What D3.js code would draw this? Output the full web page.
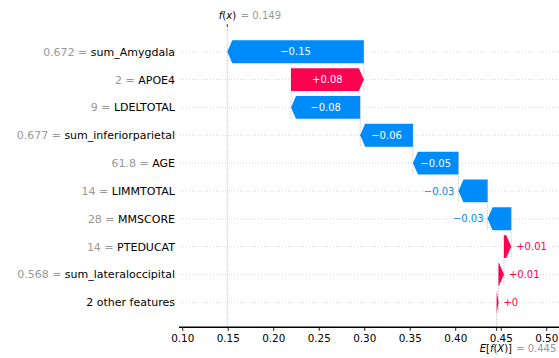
<!DOCTYPE html>
<html>
<head>
<meta charset="utf-8">
<script src="https://cdn.jsdelivr.net/npm/d3@7"></script>
<style>
  html, body { margin: 0; padding: 0; background: #fff; }
  svg { display: block; font-family: "DejaVu Sans", sans-serif; }
</style>
</head>
<body>
<svg id="chart" width="559" height="358"></svg>
<script>
// SHAP waterfall: contributions of each feature from E[f(X)] to f(x)
const features = ["sum_Amygdala", "APOE4", "LDELTOTAL", "sum_inferiorparietal", "AGE",
                  "LIMMTOTAL", "MMSCORE", "PTEDUCAT", "sum_lateraloccipital", "2 other features"];
const featureValues = ["0.672", "2", "9", "0.677", "61.8", "14", "28", "14", "0.568", null];
const shapValues = [-0.150, 0.080, -0.076, -0.058, -0.050, -0.032, -0.026, 0.008, 0.006, 0.002];
const baseValue = 0.445;
const xTicks = [0.10, 0.15, 0.20, 0.25, 0.30, 0.35, 0.40, 0.45, 0.50];

const BLUE = "#008bfb", RED = "#ff0051", GRAY = "#999999";

const svg = d3.select("#chart");
const fx = baseValue + d3.sum(shapValues);

const x = d3.scaleLinear().domain([0.0959, 0.5135]).range([179, 559]);
const y = d3.scaleLinear().domain([-0.9, features.length - 1 + 0.9]).range([26.7, 327.3]);
const rowStep = y(1) - y(0);
const barH = rowStep * 0.82;
const headLen = 5;

// bar extents, accumulated from the base value upward through the rows
const bars = [];
let cum = baseValue;
for (let i = features.length - 1; i >= 0; i--) {
  const v = shapValues[i];
  bars[i] = { i, v, from: cum, to: cum + v };
  cum += v;
}

const fmtShap = v => {
  let s = d3.format("+.2f")(v);
  s = s.replace(/0+$/, "").replace(/\.$/, "");
  return s.replace("-", "\u2212");
};

const back = svg.append("g");
const front = svg.append("g");

// horizontal dotted row guides
back.selectAll("line.row").data(features).join("line")
  .attr("x1", 180).attr("x2", 559)
  .attr("y1", (d, i) => y(i)).attr("y2", (d, i) => y(i))
  .attr("stroke", "#cccccc").attr("stroke-width", 0.8)
  .attr("stroke-dasharray", "1,2");

// connectors between consecutive bars
back.selectAll("line.conn").data(bars.slice(0, features.length - 1)).join("line")
  .attr("x1", d => x(d.from)).attr("x2", d => x(d.from))
  .attr("y1", d => y(d.i) - barH / 2).attr("y2", d => y(d.i + 1) + barH / 2)
  .attr("stroke", "#bbbbbb").attr("stroke-width", 0.7)
  .attr("stroke-dasharray", "2,1");

// f(x) and E[f(X)] guides
back.append("line")
  .attr("x1", x(fx)).attr("x2", x(fx)).attr("y1", y.range()[0]).attr("y2", y.range()[1])
  .attr("stroke", "#bbbbbb").attr("stroke-width", 0.7).attr("stroke-dasharray", "2,1");
back.append("line")
  .attr("x1", x(baseValue)).attr("x2", x(baseValue)).attr("y1", y.range()[1] - 30).attr("y2", y.range()[1])
  .attr("stroke", "#bbbbbb").attr("stroke-width", 0.7).attr("stroke-dasharray", "2,1");

// arrows
function arrowPath(d) {
  const cy = y(d.i), top = cy - barH / 2, bot = cy + barH / 2;
  const a = x(Math.min(d.from, d.to)), b = x(Math.max(d.from, d.to));
  const hl = Math.min(headLen, b - a);
  if (d.v >= 0) {
    return `M${a},${top}L${b - hl},${top}L${b},${cy}L${b - hl},${bot}L${a},${bot}Z`;
  }
  return `M${b},${top}L${a + hl},${top}L${a},${cy}L${a + hl},${bot}L${b},${bot}Z`;
}
front.selectAll("path.bar").data(bars).join("path")
  .attr("d", arrowPath)
  .attr("fill", d => d.v >= 0 ? RED : BLUE);

// value labels: inside the arrow when they fit, otherwise beside it
bars.forEach(d => {
  const a = x(Math.min(d.from, d.to)), b = x(Math.max(d.from, d.to));
  const t = front.append("text")
    .attr("y", y(d.i)).attr("dy", "0.36em")
    .attr("font-size", "10px")
    .text(fmtShap(d.v));
  const w = t.node().getComputedTextLength();
  if (w < b - a) {
    t.attr("x", (a + b) / 2).attr("text-anchor", "middle").attr("fill", "#fff");
  } else if (d.v >= 0) {
    t.attr("x", b + 5).attr("text-anchor", "start").attr("fill", RED);
  } else {
    t.attr("x", a - 4).attr("text-anchor", "end").attr("fill", BLUE);
  }
});

// feature labels
features.forEach((f, i) => {
  const t = front.append("text")
    .attr("x", 175).attr("y", y(i)).attr("dy", "0.36em")
    .attr("text-anchor", "end").attr("font-size", "11px");
  if (featureValues[i] !== null) {
    t.append("tspan").attr("fill", GRAY).text(featureValues[i] + " = ");
  }
  t.append("tspan").attr("fill", "#000").text(f);
});

// bottom axis
const axisY = y.range()[1];
front.append("line")
  .attr("x1", 179).attr("x2", 559).attr("y1", axisY).attr("y2", axisY)
  .attr("stroke", "#000").attr("stroke-width", 1.5);
front.selectAll("line.tick").data(xTicks.concat([baseValue])).join("line")
  .attr("x1", d => x(d)).attr("x2", d => x(d))
  .attr("y1", axisY).attr("y2", axisY + 3.5)
  .attr("stroke", "#000").attr("stroke-width", 0.9);
front.selectAll("text.tick").data(xTicks).join("text")
  .attr("x", d => x(d)).attr("y", axisY + 15)
  .attr("text-anchor", "middle").attr("font-size", "10.4px").attr("fill", "#000")
  .text(d => d3.format(".2f")(d));

// f(x) marker at top
front.append("line")
  .attr("x1", x(fx)).attr("x2", x(fx)).attr("y1", 24.3).attr("y2", y.range()[0])
  .attr("stroke", "#000").attr("stroke-width", 0.9);
const fxLabel = front.append("text").attr("x", x(fx) - 8.5).attr("y", 18.5).attr("font-size", "10px");
fxLabel.append("tspan").attr("font-style", "italic").text("f");
fxLabel.append("tspan").text("(");
fxLabel.append("tspan").attr("font-style", "italic").text("x");
fxLabel.append("tspan").text(")");
front.append("text").attr("x", x(fx) + 13.5).attr("y", 18.5).attr("font-size", "10px")
  .attr("fill", GRAY).text("= " + d3.format(".3f")(fx));

// E[f(X)] marker at bottom
const eLabel = front.append("text").attr("x", x(baseValue) - 17).attr("y", 351.5).attr("font-size", "10px");
eLabel.append("tspan").attr("font-style", "italic").text("E");
eLabel.append("tspan").text("[");
eLabel.append("tspan").attr("font-style", "italic").text("f");
eLabel.append("tspan").text("(");
eLabel.append("tspan").attr("font-style", "italic").text("X");
eLabel.append("tspan").text(")]");
front.append("text").attr("x", x(baseValue) + 19.5).attr("y", 351.5).attr("font-size", "10px")
  .attr("fill", GRAY).text("= " + d3.format(".3f")(baseValue));
</script>
</body>
</html>
